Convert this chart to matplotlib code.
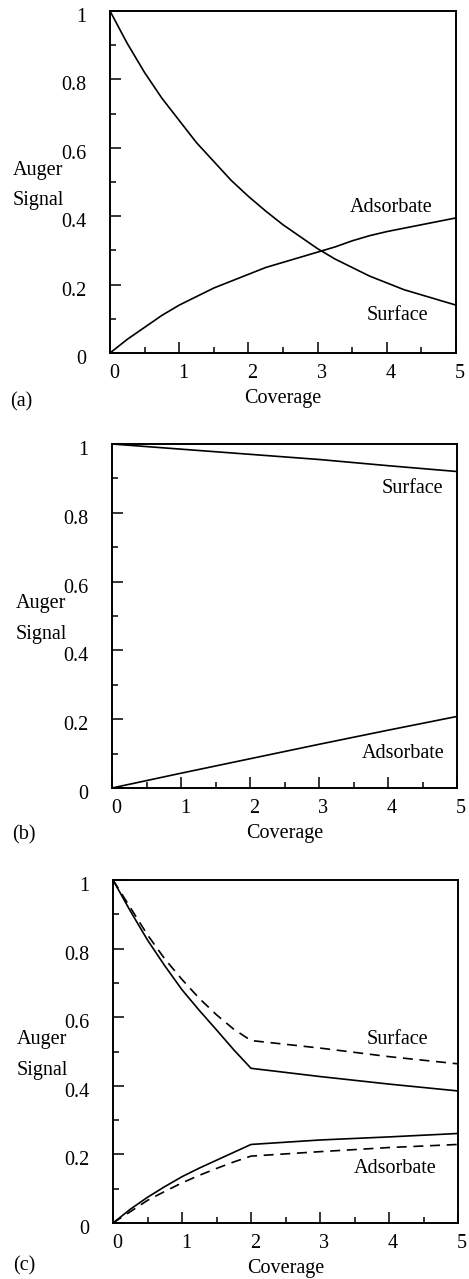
import matplotlib
matplotlib.use('Agg')
import matplotlib.pyplot as plt
import matplotlib.transforms as mtrans
import numpy as np

plt.rcParams['font.family'] = ['Liberation Serif', 'DejaVu Serif']

# values
cov_a = [0, 0.25, 0.5, 0.75, 1, 1.25, 1.5, 1.75, 2, 2.25, 2.5, 2.75,
         3, 3.25, 3.5, 3.75, 4, 4.25, 4.5, 4.75, 5]
surf_a = [1.0, 0.905, 0.82, 0.745, 0.68, 0.615, 0.56, 0.505, 0.458, 0.415, 0.375,
          0.34, 0.305, 0.275, 0.25, 0.225, 0.205, 0.185, 0.17, 0.155, 0.14]
ads_a = [0.0, 0.04, 0.075, 0.11, 0.14, 0.165, 0.19, 0.21, 0.23, 0.25, 0.265,
         0.28, 0.295, 0.31, 0.328, 0.343, 0.355, 0.365, 0.375, 0.385, 0.395]

cov_b = [0, 1, 2, 3, 4, 5]
surf_b = [1.0, 0.985, 0.97, 0.955, 0.937, 0.92]
ads_b = [0.0, 0.043, 0.085, 0.127, 0.168, 0.208]

cov_c = [0, 0.25, 0.5, 0.75, 1, 1.25, 1.5, 1.75, 2, 3, 4, 5]
surf_c = [1.0, 0.91, 0.825, 0.75, 0.68, 0.62, 0.563, 0.505, 0.451, 0.427, 0.405, 0.385]
surf_c_dash = [1.0, 0.92, 0.84, 0.77, 0.71, 0.655, 0.607, 0.565, 0.532, 0.51, 0.485, 0.464]
ads_c = [0.0, 0.04, 0.075, 0.106, 0.135, 0.16, 0.183, 0.206, 0.229, 0.242, 0.251, 0.261]
ads_c_dash = [0.0, 0.033, 0.066, 0.092, 0.117, 0.139, 0.159, 0.178, 0.195, 0.208, 0.22, 0.229]

xticks = [0, 1, 2, 3, 4, 5]
yticks = [0, 0.2, 0.4, 0.6, 0.8, 1]
ytick_labels = ['0', '0.2', '0.4', '0.6', '0.8', '1']

W, H = 469, 1279
fig = plt.figure(figsize=(W / 100, H / 100), dpi=100)

FS = 14.5


def px_axes(left, top, right, bottom):
    return fig.add_axes([left / W, 1 - bottom / H, (right - left) / W, (bottom - top) / H])


def setup(ax, letter, letter_y):
    ax.set_xlim(0, 5)
    ax.set_ylim(0, 1)
    ax.set_xticks(xticks)
    ax.set_xticks(np.arange(0, 5.01, 0.5), minor=True)
    ax.set_yticks(yticks)
    ax.set_yticklabels(ytick_labels)
    ax.set_yticks(np.arange(0, 1.01, 0.1), minor=True)
    ax.tick_params(which='both', direction='in', top=False, right=False,
                   labelsize=FS, width=1.1)
    ax.tick_params(which='major', length=8)
    ax.tick_params(which='minor', length=4)
    ax.tick_params(axis='x', pad=8)
    ax.tick_params(axis='y', pad=17)
    for s in ax.spines.values():
        s.set_linewidth(1.4)
    # labels in the scan sit a bit right / below their ticks
    off = mtrans.ScaledTranslation(4 / 100, 0, fig.dpi_scale_trans)
    for lab in ax.get_xticklabels():
        lab.set_transform(lab.get_transform() + off)
    offy = mtrans.ScaledTranslation(0, -4 / 100, fig.dpi_scale_trans)
    for lab in ax.get_yticklabels():
        lab.set_transform(lab.get_transform() + offy)
    ax.set_xlabel('Coverage', fontsize=FS, labelpad=4)
    ax.text(-0.28, 0.535, 'Auger', transform=ax.transAxes, fontsize=FS,
            ha='left', va='center')
    ax.text(-0.28, 0.445, 'Signal', transform=ax.transAxes, fontsize=FS,
            ha='left', va='center')
    ax.text(-0.29, letter_y, letter, transform=ax.transAxes, fontsize=FS,
            ha='left', va='center')


ax_a = px_axes(110, 11, 456, 353)
ax_a.plot(cov_a, surf_a, color='black', lw=1.2)
ax_a.plot(cov_a, ads_a, color='black', lw=1.2)
ax_a.text(4.07, 0.424, 'Adsorbate', ha='center', va='center', fontsize=FS)
ax_a.text(4.15, 0.11, 'Surface', ha='center', va='center', fontsize=FS)
setup(ax_a, '(a)', -0.143)

ax_b = px_axes(112, 444, 457, 788)
ax_b.plot(cov_b, surf_b, color='black', lw=1.2)
ax_b.plot(cov_b, ads_b, color='black', lw=1.2)
ax_b.text(4.35, 0.872, 'Surface', ha='center', va='center', fontsize=FS)
ax_b.text(4.22, 0.10, 'Adsorbate', ha='center', va='center', fontsize=FS)
setup(ax_b, '(b)', -0.137)

ax_c = px_axes(113, 880, 458, 1223)
ax_c.plot(cov_c, surf_c, color='black', lw=1.2)
ax_c.plot(cov_c, surf_c_dash, color='black', lw=1.2, dashes=(6, 4))
ax_c.plot(cov_c, ads_c, color='black', lw=1.2)
ax_c.plot(cov_c, ads_c_dash, color='black', lw=1.2, dashes=(6, 4))
ax_c.text(4.12, 0.536, 'Surface', ha='center', va='center', fontsize=FS)
ax_c.text(4.09, 0.16, 'Adsorbate', ha='center', va='center', fontsize=FS)
setup(ax_c, '(c)', -0.125)

fig.savefig('out.png', dpi=100)
